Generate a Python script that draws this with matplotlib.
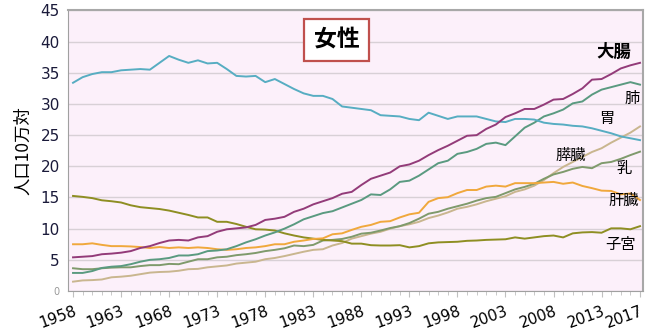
import matplotlib
matplotlib.use("Agg")
import matplotlib.pyplot as plt

plt.rcParams['font.family'] = ['DejaVu Sans', 'Noto Sans CJK JP']

years = list(range(1958, 2018))

stomach = [33.4, 34.3, 34.8, 35.1, 35.1, 35.4, 35.5, 35.6, 35.5, 36.6,
           37.7, 37.1, 36.6, 37.0, 36.5, 36.6, 35.6, 34.5, 34.4, 34.5,
           33.5, 34.0, 33.2, 32.4, 31.7, 31.3, 31.3, 30.8, 29.6, 29.4,
           29.2, 29.0, 28.2, 28.1, 28.0, 27.6, 27.4, 28.6, 28.1, 27.6,
           28.0, 28.0, 28.0, 27.6, 27.2, 27.1, 27.6, 27.6, 27.5, 27.0,
           26.8, 26.7, 26.5, 26.4, 26.1, 25.7, 25.3, 24.8, 24.5, 24.2]
colorectal = [5.4, 5.5, 5.6, 5.9, 6.0, 6.15, 6.4, 6.9, 7.2, 7.7,
              8.1, 8.2, 8.1, 8.6, 8.8, 9.5, 9.9, 10.05, 10.2, 10.6,
              11.4, 11.6, 11.9, 12.7, 13.2, 13.9, 14.4, 14.9, 15.6, 15.9,
              17.0, 18.0, 18.5, 19.0, 20.0, 20.3, 20.9, 21.8, 22.6, 23.3,
              24.1, 24.9, 25.0, 26.0, 26.7, 27.9, 28.5, 29.2, 29.2, 29.9,
              30.7, 30.8, 31.6, 32.5, 33.9, 34.0, 34.8, 35.7, 36.2, 36.6]
lung = [2.9, 2.9, 3.2, 3.7, 3.9, 4.0, 4.3, 4.7, 5.0, 5.1,
        5.3, 5.7, 5.7, 5.9, 6.4, 6.5, 6.7, 7.2, 7.8, 8.3,
        8.9, 9.4, 10.0, 10.7, 11.5, 12.0, 12.5, 12.8, 13.4, 14.0,
        14.6, 15.5, 15.4, 16.3, 17.5, 17.7, 18.5, 19.5, 20.5, 20.9,
        22.0, 22.3, 22.8, 23.6, 23.8, 23.4, 24.8, 26.2, 27.0, 28.0,
        28.5, 29.1, 30.1, 30.4, 31.5, 32.3, 32.7, 33.1, 33.5, 33.1]
pancreas = [1.5, 1.7, 1.75, 1.85, 2.2, 2.3, 2.45, 2.7, 2.95, 3.05,
            3.1, 3.25, 3.5, 3.55, 3.8, 3.95, 4.1, 4.4, 4.55, 4.7,
            5.1, 5.3, 5.6, 5.95, 6.3, 6.6, 6.7, 7.3, 7.7, 8.4,
            8.8, 9.2, 9.5, 10.0, 10.4, 10.7, 11.1, 11.7, 12.1, 12.6,
            13.2, 13.5, 13.9, 14.4, 14.8, 15.2, 15.9, 16.3, 16.9, 17.8,
            18.9, 19.9, 20.7, 21.5, 22.3, 22.9, 23.8, 24.6, 25.4, 26.4]
breast = [3.65, 3.5, 3.5, 3.65, 3.75, 3.8, 3.8, 4.0, 4.15, 4.15,
          4.35, 4.3, 4.7, 5.1, 5.1, 5.4, 5.5, 5.75, 5.9, 6.1,
          6.4, 6.6, 6.85, 7.3, 7.2, 7.4, 8.1, 8.2, 8.35, 8.7,
          9.2, 9.35, 9.7, 10.1, 10.4, 10.9, 11.6, 12.4, 12.7, 13.2,
          13.6, 14.0, 14.5, 14.9, 15.1, 15.7, 16.3, 16.7, 17.2, 18.0,
          18.7, 19.1, 19.6, 19.9, 19.7, 20.5, 20.7, 21.2, 21.8, 22.35]
liver = [7.5, 7.5, 7.65, 7.4, 7.2, 7.2, 7.15, 7.05, 6.9, 7.05,
         6.9, 7.0, 6.9, 7.0, 6.9, 6.7, 6.6, 6.7, 6.9, 7.0,
         7.2, 7.5, 7.5, 7.9, 8.1, 8.35, 8.45, 9.1, 9.25, 9.8,
         10.3, 10.6, 11.1, 11.2, 11.8, 12.3, 12.55, 14.3, 14.9, 15.05,
         15.7, 16.2, 16.2, 16.75, 16.9, 16.75, 17.3, 17.3, 17.3, 17.4,
         17.5, 17.2, 17.4, 16.85, 16.5, 16.1, 16.05, 15.5, 15.65, 14.6]
uterus = [15.25, 15.1, 14.9, 14.55, 14.4, 14.2, 13.75, 13.45, 13.3, 13.15,
          12.9, 12.55, 12.2, 11.8, 11.8, 11.1, 11.1, 10.75, 10.3, 9.9,
          9.85, 9.7, 9.25, 8.9, 8.6, 8.4, 8.2, 8.1, 8.0, 7.6,
          7.6, 7.35, 7.3, 7.3, 7.35, 7.0, 7.2, 7.65, 7.8, 7.85,
          7.9, 8.05, 8.1, 8.2, 8.25, 8.3, 8.6, 8.4, 8.6, 8.8,
          8.9, 8.6, 9.25, 9.4, 9.45, 9.35, 10.05, 10.05, 9.9, 10.4]

xtick_years = [1958, 1963, 1968, 1973, 1978, 1983, 1988, 1993, 1998, 2003, 2008, 2013, 2017]

fig = plt.figure(figsize=(6.51, 3.34), dpi=100)
ax = fig.add_axes([0.1045, 0.1287, 0.8832, 0.84])
ax.set_facecolor("#fcf0fa")

# series, colour, label, label position (year, value), bold
series = [
    (pancreas, "#c9b68f", "膵臓", (2009.8, 21.8), False),
    (breast, "#7f9a6c", "乳", (2015.3, 19.6), False),
    (uterus, "#8e8e22", "子宮", (2015.0, 7.5), False),
    (liver, "#f0a83c", "肝臓", (2015.3, 14.5), False),
    (lung, "#5a9a80", "肺", (2016.2, 30.9), False),
    (stomach, "#57adc2", "胃", (2013.5, 27.6), False),
    (colorectal, "#933b79", "大腸", (2014.3, 38.4), True),
]
for vals, col, lab, pos, bold in series:
    ax.plot(years, vals, color=col, lw=1.4)
    ax.text(pos[0], pos[1], lab, fontsize=12.5 if bold else 11,
            fontweight="bold" if bold else "normal",
            family=["Noto Sans CJK JP"], ha="center", va="center", color="black")

ax.set_xlim(1957.48, 2017.31)
ax.set_ylim(0, 45)
ax.set_yticks(range(0, 46, 5))
ax.set_yticklabels([str(v) for v in range(0, 46, 5)])
ax.grid(axis="y", color="#d8d0d6", lw=1)
ax.set_axisbelow(True)

ax.set_xticks(xtick_years)
ax.set_xticklabels([str(y) for y in xtick_years], rotation=20, fontsize=11,
                   ha="right", rotation_mode="anchor")
ax.set_xticks(years, minor=True)
ax.tick_params(axis="x", which="major", length=4, color="#c0c0c0", pad=5)
ax.tick_params(axis="x", which="minor", length=3, color="#c0c0c0")
ax.tick_params(axis="y", length=0, labelsize=11, labelcolor="#1a1a3a", pad=6)
ax.get_yticklabels()[0].set_fontsize(7)
ax.get_yticklabels()[0].set_color("#999999")

for s in ["left", "bottom"]:
    ax.spines[s].set_color("#a0a0a0")
for s in ["right", "top"]:
    ax.spines[s].set_color("#a8a8a8")
    ax.spines[s].set_linewidth(1.5)

ax.set_ylabel("人口10万対", family=["Noto Sans CJK JP"], fontsize=12.5, labelpad=6)

ax.text(0.467, 0.895, "女性", transform=ax.transAxes, fontsize=16.5, fontweight="bold",
        family=["Noto Sans CJK JP"], ha="center", va="center",
        bbox=dict(boxstyle="square,pad=0.4", fc="white", ec="#c0504d", lw=1.6))

fig.savefig("out.png", dpi=100)
